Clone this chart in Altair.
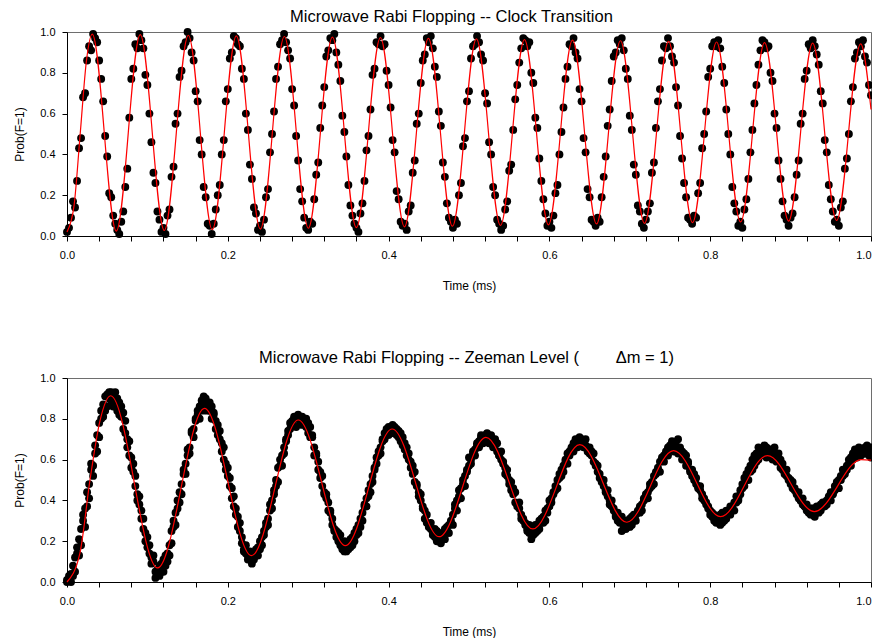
import altair as alt
import pandas as pd

# Scan times (ms), shared by both measurements
time_ms = [
    0.0, 0.0025, 0.005, 0.0075, 0.01, 0.0125, 0.015, 0.0175, 0.02, 0.0225, 0.025, 0.0275, 0.03, 0.0325, 0.035, 0.0375, 0.04, 0.0425, 0.045, 0.0475,
    0.05, 0.0525, 0.055, 0.0575, 0.06, 0.0625, 0.065, 0.0675, 0.07, 0.0725, 0.075, 0.0775, 0.08, 0.0825, 0.085, 0.0875, 0.09, 0.0925, 0.095, 0.0975,
    0.1, 0.1025, 0.105, 0.1075, 0.11, 0.1125, 0.115, 0.1175, 0.12, 0.1225, 0.125, 0.1275, 0.13, 0.1325, 0.135, 0.1375, 0.14, 0.1425, 0.145, 0.1475,
    0.15, 0.1525, 0.155, 0.1575, 0.16, 0.1625, 0.165, 0.1675, 0.17, 0.1725, 0.175, 0.1775, 0.18, 0.1825, 0.185, 0.1875, 0.19, 0.1925, 0.195, 0.1975,
    0.2, 0.2025, 0.205, 0.2075, 0.21, 0.2125, 0.215, 0.2175, 0.22, 0.2225, 0.225, 0.2275, 0.23, 0.2325, 0.235, 0.2375, 0.24, 0.2425, 0.245, 0.2475,
    0.25, 0.2525, 0.255, 0.2575, 0.26, 0.2625, 0.265, 0.2675, 0.27, 0.2725, 0.275, 0.2775, 0.28, 0.2825, 0.285, 0.2875, 0.29, 0.2925, 0.295, 0.2975,
    0.3, 0.3025, 0.305, 0.3075, 0.31, 0.3125, 0.315, 0.3175, 0.32, 0.3225, 0.325, 0.3275, 0.33, 0.3325, 0.335, 0.3375, 0.34, 0.3425, 0.345, 0.3475,
    0.35, 0.3525, 0.355, 0.3575, 0.36, 0.3625, 0.365, 0.3675, 0.37, 0.3725, 0.375, 0.3775, 0.38, 0.3825, 0.385, 0.3875, 0.39, 0.3925, 0.395, 0.3975,
    0.4, 0.4025, 0.405, 0.4075, 0.41, 0.4125, 0.415, 0.4175, 0.42, 0.4225, 0.425, 0.4275, 0.43, 0.4325, 0.435, 0.4375, 0.44, 0.4425, 0.445, 0.4475,
    0.45, 0.4525, 0.455, 0.4575, 0.46, 0.4625, 0.465, 0.4675, 0.47, 0.4725, 0.475, 0.4775, 0.48, 0.4825, 0.485, 0.4875, 0.49, 0.4925, 0.495, 0.4975,
    0.5, 0.5025, 0.505, 0.5075, 0.51, 0.5125, 0.515, 0.5175, 0.52, 0.5225, 0.525, 0.5275, 0.53, 0.5325, 0.535, 0.5375, 0.54, 0.5425, 0.545, 0.5475,
    0.55, 0.5525, 0.555, 0.5575, 0.56, 0.5625, 0.565, 0.5675, 0.57, 0.5725, 0.575, 0.5775, 0.58, 0.5825, 0.585, 0.5875, 0.59, 0.5925, 0.595, 0.5975,
    0.6, 0.6025, 0.605, 0.6075, 0.61, 0.6125, 0.615, 0.6175, 0.62, 0.6225, 0.625, 0.6275, 0.63, 0.6325, 0.635, 0.6375, 0.64, 0.6425, 0.645, 0.6475,
    0.65, 0.6525, 0.655, 0.6575, 0.66, 0.6625, 0.665, 0.6675, 0.67, 0.6725, 0.675, 0.6775, 0.68, 0.6825, 0.685, 0.6875, 0.69, 0.6925, 0.695, 0.6975,
    0.7, 0.7025, 0.705, 0.7075, 0.71, 0.7125, 0.715, 0.7175, 0.72, 0.7225, 0.725, 0.7275, 0.73, 0.7325, 0.735, 0.7375, 0.74, 0.7425, 0.745, 0.7475,
    0.75, 0.7525, 0.755, 0.7575, 0.76, 0.7625, 0.765, 0.7675, 0.77, 0.7725, 0.775, 0.7775, 0.78, 0.7825, 0.785, 0.7875, 0.79, 0.7925, 0.795, 0.7975,
    0.8, 0.8025, 0.805, 0.8075, 0.81, 0.8125, 0.815, 0.8175, 0.82, 0.8225, 0.825, 0.8275, 0.83, 0.8325, 0.835, 0.8375, 0.84, 0.8425, 0.845, 0.8475,
    0.85, 0.8525, 0.855, 0.8575, 0.86, 0.8625, 0.865, 0.8675, 0.87, 0.8725, 0.875, 0.8775, 0.88, 0.8825, 0.885, 0.8875, 0.89, 0.8925, 0.895, 0.8975,
    0.9, 0.9025, 0.905, 0.9075, 0.91, 0.9125, 0.915, 0.9175, 0.92, 0.9225, 0.925, 0.9275, 0.93, 0.9325, 0.935, 0.9375, 0.94, 0.9425, 0.945, 0.9475,
    0.95, 0.9525, 0.955, 0.9575, 0.96, 0.9625, 0.965, 0.9675, 0.97, 0.9725, 0.975, 0.9775, 0.98, 0.9825, 0.985, 0.9875, 0.99, 0.9925, 0.995, 0.9975,
    1.0,
]

# Clock transition: measured Prob(F=1)
clock_prob = [
    0.02, 0.04, 0.09, 0.17, 0.14, 0.27, 0.43, 0.48, 0.68, 0.70, 0.86, 0.93, 0.91, 0.99, 0.97, 0.95, 0.86, 0.77, 0.66, 0.49, 0.39, 0.21, 0.19, 0.10,
    0.06, 0.03, 0.01, 0.07, 0.12, 0.24, 0.33, 0.58, 0.77, 0.82, 0.94, 0.92, 0.99, 0.96, 0.92, 0.79, 0.74, 0.60, 0.46, 0.31, 0.26, 0.12, 0.08, 0.02,
    0.04, 0.01, 0.10, 0.13, 0.29, 0.34, 0.55, 0.60, 0.78, 0.81, 0.93, 0.95, 1.00, 0.97, 0.90, 0.86, 0.71, 0.66, 0.47, 0.40, 0.24, 0.19, 0.06, 0.05,
    0.01, 0.06, 0.13, 0.20, 0.25, 0.40, 0.47, 0.66, 0.72, 0.87, 0.90, 0.98, 0.97, 0.94, 0.93, 0.82, 0.77, 0.60, 0.52, 0.35, 0.28, 0.14, 0.11, 0.03,
    0.05, 0.02, 0.08, 0.19, 0.23, 0.41, 0.50, 0.61, 0.77, 0.83, 0.94, 0.96, 0.99, 0.95, 0.91, 0.87, 0.72, 0.64, 0.49, 0.37, 0.23, 0.17, 0.09, 0.04,
    0.03, 0.07, 0.06, 0.18, 0.30, 0.36, 0.53, 0.64, 0.73, 0.88, 0.91, 0.97, 0.96, 0.99, 0.90, 0.84, 0.76, 0.59, 0.51, 0.39, 0.25, 0.15, 0.10, 0.06,
    0.04, 0.02, 0.11, 0.16, 0.27, 0.42, 0.49, 0.62, 0.79, 0.82, 0.95, 0.94, 0.98, 0.93, 0.94, 0.81, 0.74, 0.63, 0.47, 0.41, 0.22, 0.18, 0.07, 0.05,
    0.06, 0.03, 0.12, 0.15, 0.31, 0.37, 0.55, 0.60, 0.75, 0.86, 0.89, 0.97, 0.95, 0.98, 0.92, 0.83, 0.78, 0.61, 0.54, 0.36, 0.29, 0.16, 0.09, 0.07,
    0.04, 0.08, 0.06, 0.20, 0.26, 0.44, 0.48, 0.66, 0.71, 0.87, 0.93, 0.94, 0.98, 0.95, 0.89, 0.86, 0.70, 0.65, 0.46, 0.40, 0.24, 0.20, 0.08, 0.06,
    0.03, 0.05, 0.13, 0.17, 0.32, 0.35, 0.52, 0.67, 0.74, 0.85, 0.92, 0.97, 0.96, 0.93, 0.95, 0.80, 0.75, 0.58, 0.53, 0.38, 0.27, 0.18, 0.11, 0.05,
    0.07, 0.04, 0.10, 0.21, 0.25, 0.40, 0.51, 0.63, 0.77, 0.83, 0.94, 0.93, 0.97, 0.90, 0.87, 0.72, 0.66, 0.48, 0.41, 0.23, 0.19, 0.08, 0.07,
    0.05, 0.09, 0.07, 0.19, 0.29, 0.39, 0.54, 0.62, 0.76, 0.88, 0.90, 0.96, 0.94, 0.97, 0.91, 0.82, 0.77, 0.59, 0.52, 0.35, 0.30, 0.15, 0.12, 0.06,
    0.04, 0.08, 0.12, 0.16, 0.31, 0.36, 0.53, 0.66, 0.72, 0.86, 0.93, 0.92, 0.97, 0.93, 0.88, 0.85, 0.73, 0.64, 0.49, 0.38, 0.26, 0.19, 0.09, 0.08,
    0.06, 0.10, 0.09, 0.21, 0.26, 0.43, 0.50, 0.61, 0.78, 0.82, 0.93, 0.95, 0.93, 0.96, 0.92, 0.83, 0.75, 0.62, 0.50, 0.40, 0.24, 0.16, 0.12, 0.05,
    0.07, 0.04, 0.13, 0.18, 0.28, 0.41, 0.52, 0.65, 0.74, 0.84, 0.91, 0.96, 0.95, 0.92, 0.93, 0.80, 0.76, 0.60, 0.53, 0.37, 0.28, 0.17, 0.10, 0.08,
    0.05, 0.09, 0.11, 0.19, 0.30, 0.37, 0.55, 0.60, 0.77, 0.81, 0.94, 0.92, 0.96, 0.93, 0.89, 0.84, 0.71, 0.65, 0.47, 0.41, 0.25, 0.18, 0.12, 0.07,
    0.08, 0.05, 0.14, 0.17, 0.33, 0.38, 0.50, 0.66, 0.73, 0.87, 0.90, 0.95, 0.93, 0.96, 0.88, 0.85, 0.74, 0.69,
]

# Zeeman level: measured Prob(F=1), first scan
zeeman_prob = [
    0.00, 0.01, 0.04, 0.03, 0.12, 0.14, 0.13, 0.26, 0.30, 0.27, 0.37, 0.48, 0.55, 0.57, 0.63, 0.72, 0.71, 0.80, 0.87, 0.84, 0.92, 0.90, 0.93,
    0.91, 0.87, 0.90, 0.88, 0.81, 0.83, 0.73, 0.70, 0.62, 0.61, 0.54, 0.47, 0.43, 0.38, 0.31, 0.26, 0.24, 0.17, 0.14, 0.12, 0.10, 0.05, 0.04, 0.03,
    0.05, 0.11, 0.08, 0.14, 0.13, 0.25, 0.27, 0.34, 0.36, 0.39, 0.48, 0.53, 0.58, 0.62, 0.66, 0.73, 0.75, 0.80, 0.84, 0.86, 0.89, 0.91, 0.88,
    0.87, 0.84, 0.86, 0.82, 0.79, 0.77, 0.70, 0.68, 0.60, 0.58, 0.52, 0.47, 0.41, 0.37, 0.36, 0.27, 0.25, 0.19, 0.16, 0.14, 0.11, 0.12, 0.09,
    0.14, 0.13, 0.17, 0.16, 0.22, 0.25, 0.27, 0.31, 0.38, 0.36, 0.45, 0.50, 0.56, 0.60, 0.57, 0.63, 0.70, 0.74, 0.78, 0.79, 0.81, 0.80, 0.82, 0.80,
    0.81, 0.78, 0.80, 0.73, 0.76, 0.71, 0.66, 0.62, 0.59, 0.51, 0.52, 0.44, 0.41, 0.39, 0.35, 0.31, 0.26, 0.25, 0.20, 0.23, 0.17, 0.15, 0.19,
    0.16, 0.21, 0.18, 0.24, 0.23, 0.28, 0.27, 0.34, 0.37, 0.41, 0.45, 0.44, 0.52, 0.56, 0.61, 0.64, 0.63, 0.70, 0.73, 0.75, 0.72, 0.74, 0.73,
    0.76, 0.72, 0.74, 0.69, 0.71, 0.65, 0.66, 0.60, 0.56, 0.57, 0.49, 0.47, 0.42, 0.40, 0.36, 0.31, 0.29, 0.27, 0.26, 0.24, 0.22, 0.25, 0.23, 0.21,
    0.24, 0.26, 0.27, 0.28, 0.30, 0.33, 0.38, 0.40, 0.45, 0.46, 0.50, 0.52, 0.55, 0.61, 0.60, 0.63, 0.65, 0.67, 0.69, 0.71, 0.70, 0.72, 0.69,
    0.68, 0.72, 0.66, 0.70, 0.64, 0.62, 0.60, 0.58, 0.53, 0.52, 0.48, 0.45, 0.46, 0.39, 0.37, 0.36, 0.31, 0.30, 0.28, 0.26, 0.24, 0.21, 0.27,
    0.28, 0.25, 0.30, 0.31, 0.29, 0.35, 0.34, 0.40, 0.41, 0.44, 0.47, 0.50, 0.53, 0.52, 0.57, 0.59, 0.63, 0.64, 0.65, 0.68, 0.70, 0.69, 0.68, 0.70,
    0.69, 0.67, 0.66, 0.63, 0.64, 0.59, 0.58, 0.54, 0.51, 0.50, 0.47, 0.45, 0.42, 0.38, 0.40, 0.35, 0.33, 0.30, 0.29, 0.25, 0.27, 0.26, 0.28,
    0.27, 0.32, 0.30, 0.33, 0.35, 0.34, 0.38, 0.41, 0.43, 0.44, 0.48, 0.47, 0.52, 0.54, 0.55, 0.59, 0.61, 0.62, 0.64, 0.66, 0.67, 0.69, 0.68,
    0.67, 0.70, 0.66, 0.64, 0.63, 0.62, 0.58, 0.55, 0.52, 0.53, 0.48, 0.46, 0.45, 0.41, 0.40, 0.38, 0.36, 0.33, 0.32, 0.30, 0.29, 0.31, 0.28, 0.34,
    0.30, 0.35, 0.33, 0.37, 0.36, 0.39, 0.42, 0.40, 0.45, 0.48, 0.51, 0.53, 0.55, 0.57, 0.60, 0.62, 0.63, 0.66, 0.64, 0.65, 0.67, 0.66, 0.63,
    0.65, 0.64, 0.66, 0.62, 0.63, 0.60, 0.55, 0.53, 0.52, 0.50, 0.48, 0.46, 0.45, 0.44, 0.41, 0.40, 0.38, 0.37, 0.35, 0.34, 0.36, 0.33, 0.35,
    0.37, 0.34, 0.38, 0.39, 0.37, 0.40, 0.42, 0.44, 0.43, 0.47, 0.49, 0.50, 0.52, 0.55, 0.54, 0.57, 0.60, 0.61, 0.63, 0.65, 0.64, 0.66, 0.65, 0.63,
    0.66, 0.64, 0.62, 0.61,
]

# Zeeman level: measured Prob(F=1), repeat scan at the same times
zeeman_prob_b = [
    0.01, 0.03, 0.00, 0.08, 0.05, 0.17, 0.21, 0.18, 0.33, 0.36, 0.44, 0.41, 0.58, 0.52, 0.67, 0.64, 0.78, 0.84, 0.81, 0.91, 0.86, 0.93, 0.89,
    0.86, 0.93, 0.84, 0.82, 0.86, 0.75, 0.79, 0.66, 0.69, 0.56, 0.58, 0.52, 0.40, 0.42, 0.35, 0.31, 0.20, 0.22, 0.18, 0.09, 0.13, 0.02, 0.06, 0.08,
    0.09, 0.05, 0.13, 0.10, 0.18, 0.19, 0.30, 0.28, 0.40, 0.44, 0.43, 0.55, 0.53, 0.65, 0.63, 0.74, 0.71, 0.79, 0.82, 0.80, 0.87, 0.84, 0.90,
    0.84, 0.88, 0.80, 0.83, 0.75, 0.72, 0.74, 0.64, 0.66, 0.55, 0.56, 0.51, 0.46, 0.42, 0.33, 0.32, 0.29, 0.22, 0.15, 0.18, 0.13, 0.15, 0.11,
    0.11, 0.16, 0.13, 0.20, 0.18, 0.23, 0.29, 0.28, 0.35, 0.40, 0.43, 0.47, 0.49, 0.57, 0.62, 0.66, 0.69, 0.72, 0.75, 0.77, 0.80, 0.76, 0.81, 0.78,
    0.77, 0.80, 0.76, 0.78, 0.71, 0.72, 0.62, 0.63, 0.55, 0.54, 0.47, 0.43, 0.43, 0.35, 0.34, 0.28, 0.25, 0.22, 0.24, 0.18, 0.16, 0.20, 0.15,
    0.19, 0.17, 0.22, 0.20, 0.26, 0.24, 0.31, 0.30, 0.38, 0.37, 0.42, 0.48, 0.49, 0.55, 0.58, 0.62, 0.66, 0.69, 0.70, 0.74, 0.76, 0.73, 0.77,
    0.73, 0.75, 0.71, 0.73, 0.67, 0.68, 0.62, 0.63, 0.59, 0.53, 0.54, 0.48, 0.44, 0.43, 0.37, 0.35, 0.33, 0.28, 0.29, 0.23, 0.26, 0.20, 0.24, 0.19,
    0.22, 0.21, 0.25, 0.24, 0.29, 0.28, 0.36, 0.35, 0.42, 0.41, 0.48, 0.47, 0.54, 0.57, 0.58, 0.64, 0.62, 0.68, 0.66, 0.72, 0.68, 0.70, 0.73,
    0.71, 0.69, 0.70, 0.67, 0.68, 0.62, 0.64, 0.59, 0.56, 0.55, 0.50, 0.49, 0.43, 0.44, 0.38, 0.39, 0.33, 0.31, 0.29, 0.25, 0.28, 0.24, 0.23,
    0.24, 0.28, 0.26, 0.29, 0.32, 0.30, 0.36, 0.37, 0.39, 0.43, 0.45, 0.46, 0.51, 0.55, 0.54, 0.60, 0.58, 0.62, 0.66, 0.64, 0.68, 0.66, 0.71, 0.67,
    0.66, 0.70, 0.64, 0.66, 0.62, 0.63, 0.57, 0.57, 0.53, 0.49, 0.50, 0.44, 0.45, 0.40, 0.37, 0.36, 0.32, 0.34, 0.30, 0.32, 0.28, 0.30, 0.27,
    0.31, 0.28, 0.33, 0.30, 0.34, 0.37, 0.35, 0.40, 0.42, 0.41, 0.46, 0.49, 0.48, 0.53, 0.56, 0.54, 0.60, 0.59, 0.63, 0.62, 0.65, 0.66, 0.64,
    0.66, 0.63, 0.65, 0.60, 0.62, 0.57, 0.59, 0.54, 0.55, 0.50, 0.51, 0.47, 0.47, 0.43, 0.41, 0.39, 0.37, 0.35, 0.34, 0.33, 0.31, 0.30, 0.33, 0.29,
    0.32, 0.31, 0.35, 0.33, 0.37, 0.35, 0.39, 0.41, 0.43, 0.46, 0.47, 0.50, 0.50, 0.54, 0.55, 0.57, 0.59, 0.60, 0.62, 0.63, 0.64, 0.61, 0.65,
    0.62, 0.60, 0.63, 0.59, 0.60, 0.56, 0.58, 0.54, 0.55, 0.51, 0.50, 0.49, 0.46, 0.43, 0.44, 0.40, 0.41, 0.37, 0.38, 0.35, 0.33, 0.36, 0.32,
    0.34, 0.36, 0.35, 0.37, 0.39, 0.38, 0.41, 0.40, 0.43, 0.45, 0.47, 0.46, 0.50, 0.52, 0.53, 0.55, 0.58, 0.57, 0.60, 0.62, 0.61, 0.64, 0.62, 0.65,
    0.63, 0.67, 0.64, 0.66,
]

# Fitted curves: turning points (and a few early points)
clock_fit_t = [0.0, 0.0088, 0.0165, 0.0242, 0.0314, 0.0613, 0.0911, 0.121, 0.1509, 0.1807,
               0.2106, 0.2405, 0.2703, 0.3002, 0.3301, 0.3599, 0.3898, 0.4197, 0.4495, 0.4794,
               0.5092, 0.5391, 0.569, 0.5988, 0.6287, 0.6586, 0.6884, 0.7183, 0.7482, 0.778,
               0.8079, 0.8378, 0.8676, 0.8975, 0.9274, 0.9572, 0.9871, 1.0]
clock_fit_p = [0.02, 0.15, 0.505, 0.86, 0.99, 0.024, 0.987, 0.027, 0.984, 0.031,
               0.981, 0.034, 0.978, 0.038, 0.975, 0.041, 0.972, 0.045, 0.969, 0.048,
               0.966, 0.052, 0.963, 0.055, 0.96, 0.059, 0.957, 0.062, 0.954, 0.066,
               0.951, 0.069, 0.948, 0.073, 0.945, 0.076, 0.942, 0.62]

zeeman_fit_t = [0.0, 0.016, 0.0286, 0.041, 0.0543, 0.1127, 0.171, 0.2294, 0.2877, 0.3461,
                0.4044, 0.4628, 0.5211, 0.5795, 0.6378, 0.6962, 0.7545, 0.8129, 0.8712,
                0.9296, 0.9879, 1.0]
zeeman_fit_p = [0.0, 0.14, 0.50, 0.79, 0.913, 0.069, 0.851, 0.129, 0.794, 0.178,
                0.75, 0.222, 0.709, 0.26, 0.673, 0.293, 0.644, 0.32, 0.619,
                0.345, 0.60, 0.597]

x_ticks = [0.0, 0.04, 0.08, 0.12, 0.16, 0.2, 0.24, 0.28, 0.32, 0.36, 0.4, 0.44, 0.48,
           0.52, 0.56, 0.6, 0.64, 0.68, 0.72, 0.76, 0.8, 0.84, 0.88, 0.92, 0.96, 1.0]
y_ticks = [0.0, 0.2, 0.4, 0.6, 0.8, 1.0]

FONT = "Liberation Sans"
X_LABEL_EXPR = ("format(datum.value, '.2f') == format(datum.value, '.1f') + '0' "
                "? format(datum.value, '.1f') : ''")


def x_axis():
    return alt.Axis(
        values=x_ticks,
        labelExpr=X_LABEL_EXPR,
        title="Time (ms)",
        labelPadding=8,
        titlePadding=20,
        labelFlush=False,
        labelOverlap=False,
        labelBound=False,
        labelAlign={"condition": {"test": "datum.value > 0.999", "value": "right"}, "value": "center"},
    )


def panel(title, scans, fit_t, fit_p, dx, title_offset):
    rows = []
    for prob in scans:
        for t, p in zip(time_ms, prob):
            rows.append({"t": t, "p": p})
    pts = pd.DataFrame(rows)
    fit = pd.DataFrame({"t": fit_t, "p": fit_p})
    x = alt.X("t:Q", scale=alt.Scale(domain=[0, 1], nice=False, zero=False), axis=x_axis())
    y = alt.Y(
        "p:Q",
        scale=alt.Scale(domain=[0, 1], nice=False, zero=False),
        axis=alt.Axis(
            values=y_ticks,
            format=".1f",
            title="Prob(F=1)",
            labelPadding=7,
            titlePadding=13,
            labelOverlap=False,
        ),
    )
    points = alt.Chart(pts).mark_circle(size=62, color="black", opacity=1).encode(x=x, y=y)
    line = alt.Chart(fit).mark_line(color="#ff0000", strokeWidth=1.2, interpolate="monotone").encode(
        x=alt.X("t:Q", axis=x_axis()),
        y=alt.Y("p:Q"),
    )
    return alt.layer(points, line).properties(
        width=804,
        height=204,
        title=alt.TitleParams(
            title, anchor="middle", frame="group", dx=dx, offset=title_offset,
            font=FONT, fontSize=16.5, fontWeight="normal", color="black",
        ),
    )


top = panel("Microwave Rabi Flopping -- Clock Transition", [clock_prob],
            clock_fit_t, clock_fit_p, -17.5, 1)
bottom = panel(
    "Microwave Rabi Flopping -- Zeeman Level (\u00a0\u00a0\u00a0\u00a0\u00a0\u00a0\u00a0\u00a0\u0394m = 1)",
    [zeeman_prob, zeeman_prob_b], zeeman_fit_t, zeeman_fit_p, -2.5, 6,
)

chart = (
    alt.vconcat(top, bottom, spacing=57)
    .properties(padding={"left": 5, "top": 0, "right": -4, "bottom": 0})
    .configure_axis(
        labelFont=FONT, titleFont=FONT, labelFontSize=11, titleFontSize=12,
        titleFontWeight="normal", labelColor="black", titleColor="black",
        domainColor="black", tickColor="black", tickSize=5, grid=False,
        domainWidth=1, tickWidth=1, labelOverlap=False,
    )
    .configure_view(stroke="#6e6e6e", strokeWidth=1)
    .configure_concat(spacing=57)
)

chart.save("out.html", embed_options={"renderer": "svg", "actions": False})
